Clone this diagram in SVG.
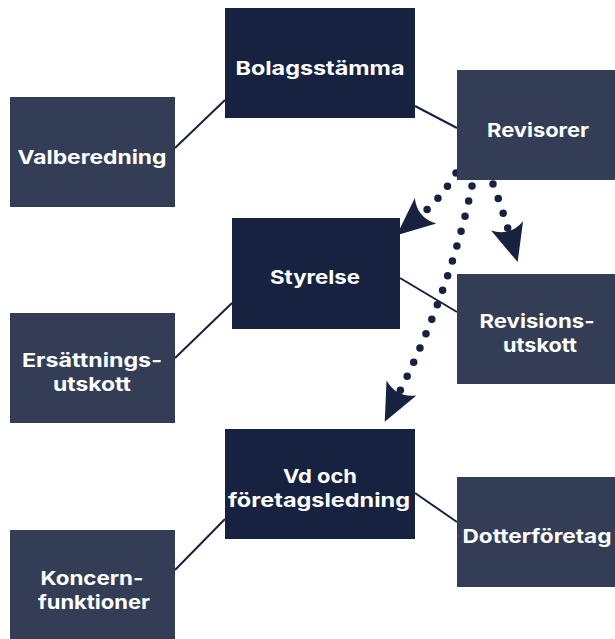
<svg xmlns="http://www.w3.org/2000/svg" width="615" height="639" viewBox="0 0 615 639">
<style>
.p{fill:#16223f}
.s{fill:#333e56}
.t{fill:#ffffff;font-family:Inter,"Open Sans","Liberation Sans",sans-serif;font-weight:700;font-size:19px;text-anchor:middle}
.ln{stroke:#16223f;stroke-width:2;fill:none}
.dot{stroke:#16223f;stroke-width:7.5;fill:none;stroke-linecap:round;stroke-dasharray:0 15.5}
</style>
<defs>
<marker id="ah" markerUnits="userSpaceOnUse" markerWidth="40" markerHeight="40" refX="4" refY="16" orient="auto" viewBox="0 0 36 32">
<path d="M35,16 L1,1 Q11,16 1,31 Z" fill="#16223f"/>
</marker>
</defs>
<rect width="615" height="639" fill="#ffffff"/>
<g id="connectors">
<line class="ln" x1="175" y1="148" x2="225" y2="100"/>
<line class="ln" x1="415" y1="106" x2="457" y2="128"/>
<line class="ln" x1="175" y1="358" x2="232" y2="303"/>
<line class="ln" x1="400" y1="278" x2="457" y2="312"/>
<line class="ln" x1="175" y1="570" x2="225" y2="519"/>
<line class="ln" x1="415" y1="493" x2="457" y2="522"/>
<path class="dot" d="M456,173 Q442,197 423,213" marker-end="url(#ah)"/>
<path class="dot" d="M472,186 Q450,290 400,391" marker-end="url(#ah)"/>
<path class="dot" d="M493,184 Q501,205 508,229" marker-end="url(#ah)"/>
</g>
<g id="bolagsstamma"><rect class="p" x="225" y="8" width="190" height="110"/><text class="t" x="320" y="75" textLength="169" lengthAdjust="spacingAndGlyphs">Bolagsstämma</text></g>
<g id="revisorer"><rect class="s" x="457" y="70" width="158" height="110"/><text class="t" x="538" y="137" textLength="102" lengthAdjust="spacingAndGlyphs">Revisorer</text></g>
<g id="valberedning"><rect class="s" x="10" y="97" width="165" height="110"/><text class="t" x="92" y="164" textLength="149" lengthAdjust="spacingAndGlyphs">Valberedning</text></g>
<g id="styrelse"><rect class="p" x="232" y="218" width="168" height="111"/><text class="t" x="315" y="284" textLength="90" lengthAdjust="spacingAndGlyphs">Styrelse</text></g>
<g id="revisionsutskott"><rect class="s" x="457" y="274" width="158" height="110"/><text class="t" x="537" y="328" textLength="115" lengthAdjust="spacingAndGlyphs">Revisions-</text><text class="t" x="540" y="352" textLength="74" lengthAdjust="spacingAndGlyphs">utskott</text></g>
<g id="ersattningsutskott"><rect class="s" x="10" y="313" width="165" height="110"/><text class="t" x="92" y="367" textLength="140" lengthAdjust="spacingAndGlyphs">Ersättnings-</text><text class="t" x="92" y="391" textLength="78" lengthAdjust="spacingAndGlyphs">utskott</text></g>
<g id="vd"><rect class="p" x="225" y="429" width="190" height="110"/><text class="t" x="320" y="483" textLength="74" lengthAdjust="spacingAndGlyphs">Vd och</text><text class="t" x="319" y="507" textLength="182" lengthAdjust="spacingAndGlyphs">företagsledning</text></g>
<g id="dotterforetag"><rect class="s" x="457" y="477" width="158" height="110"/><text class="t" x="537" y="543" textLength="149" lengthAdjust="spacingAndGlyphs">Dotterföretag</text></g>
<g id="koncernfunktioner"><rect class="s" x="10" y="530" width="165" height="109"/><text class="t" x="92" y="585" textLength="103" lengthAdjust="spacingAndGlyphs">Koncern-</text><text class="t" x="94" y="609" textLength="112" lengthAdjust="spacingAndGlyphs">funktioner</text></g>
</svg>
